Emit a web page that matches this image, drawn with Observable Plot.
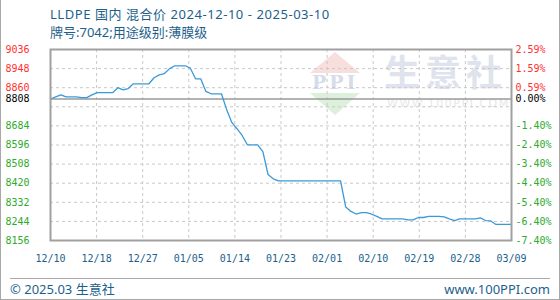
<!DOCTYPE html>
<html><head><meta charset="utf-8">
<script src="https://cdn.jsdelivr.net/npm/d3@7"></script>
<script src="https://cdn.jsdelivr.net/npm/@observablehq/plot@0.6"></script>
<style>
body{margin:0;background:#fff;}
#wrap{position:relative;width:560px;height:300px;overflow:hidden;font-family:"Noto Sans","Noto Sans CJK SC",sans-serif;}
#border{position:absolute;left:0;top:0;width:560px;height:300px;box-sizing:border-box;border:1px solid #a8a8a8;border-top:none;}
.t{position:absolute;white-space:nowrap;color:#1d5f8c;font-size:13px;line-height:13px;}
#chart{position:absolute;left:0;top:0;}
#footline{position:absolute;left:10px;top:278px;width:540px;height:1px;background:#a8a8a8;}
.wm{position:absolute;white-space:nowrap;}
</style></head><body>
<div id="wrap">
  <div class="wm" style="left:310px;top:52px;width:0;height:0;border-left:25px solid transparent;border-right:25px solid transparent;border-bottom:21px solid #f9dede;"></div>
  <div class="wm" style="left:310px;top:93px;width:0;height:0;border-left:25px solid transparent;border-right:25px solid transparent;border-top:22px solid #dcf0dc;"></div>
  <div class="wm" style="left:312px;top:72px;font-family:'DejaVu Serif';font-weight:bold;font-size:19px;line-height:20px;color:#d6dcea;letter-spacing:3px;">PPI</div>
  <div class="wm" style="left:384px;top:50px;font-family:'Noto Sans CJK SC';font-weight:bold;font-size:36px;line-height:40px;color:#dfe3ed;letter-spacing:5px;">生意社</div>
  <div class="wm" style="left:387px;top:98px;font-family:'DejaVu Sans';font-size:11px;line-height:12px;color:#e8e8e8;letter-spacing:1.5px;">WWW.100PPI.COM</div>
  <div id="chart"></div>
  <div class="t" style="left:50px;top:8px;letter-spacing:0.55px;">LLDPE 国内 混合价 2024-12-10 - 2025-03-10</div>
  <div class="t" style="left:50px;top:26px;">牌号:7042;用途级别:薄膜级</div>
  <div id="footline"></div>
  <div class="t" style="left:10px;top:283px;">© 2025.03 生意社</div>
  <div class="t" style="right:10px;top:283px;">www.100PPI.com</div>
  <div id="border"></div>
</div>
<script>
const startDate = "2024-12-10";
const baseValue = 8808;
const prices = [
  8808, 8818, 8827, 8818, 8818, 8818, 8814, 8814, 8827, 8837,
  8837, 8837, 8837, 8860, 8850, 8856, 8878, 8878, 8878, 8878,
  8906, 8919, 8925, 8948, 8961, 8961, 8961, 8950, 8901, 8901,
  8843, 8832, 8832, 8832, 8760, 8700, 8671, 8640, 8597, 8597,
  8597, 8565, 8460, 8440, 8431, 8431, 8431, 8431, 8431, 8431,
  8431, 8431, 8431, 8431, 8431, 8431, 8431, 8310, 8290, 8278,
  8284, 8284, 8277, 8267, 8256, 8256, 8256, 8256, 8256, 8251,
  8251, 8262, 8262, 8267, 8267, 8267, 8265, 8256, 8248, 8256,
  8256, 8256, 8256, 8260, 8248, 8246, 8230, 8230, 8230, 8230
];
const xTickLabels = ["12/10","12/18","12/27","01/05","01/14","01/23","02/01","02/10","02/19","02/28","03/09"];
const yLabelValues = [9036, 8948, 8860, 8808, 8684, 8596, 8508, 8420, 8332, 8244, 8156];
const yPctLabels = ["2.59%","1.59%","0.59%","0.00%","-1.40%","-2.40%","-3.40%","-4.40%","-5.40%","-6.40%","-7.40%"];
const yGridValues = [9036, 8948, 8860, 8772, 8684, 8596, 8508, 8420, 8332, 8244, 8156];

const data = prices.map((v, i) => ({day: i, price: v}));
const lastDay = prices.length - 1;
const xTicks = xTickLabels.map((l, i) => ({pos: lastDay * i / (xTickLabels.length - 1), label: l}));
const labelColor = v => v > baseValue ? "#ff3030" : v < baseValue ? "#2eaa2e" : "#000000";
const yLabels = yLabelValues.map((v, i) => ({v, txt: String(v), pct: yPctLabels[i], c: labelColor(v)}));
const mono = "'DejaVu Sans Mono', monospace";

const chart = Plot.plot({
  width: 560, height: 300,
  marginTop: 49, marginBottom: 60, marginLeft: 50, marginRight: 49,
  x: {domain: [0, lastDay], axis: null},
  y: {domain: [d3.min(yGridValues), d3.max(yGridValues)], axis: null},
  color: {type: "identity"},
  style: {background: "transparent", overflow: "visible"},
  marks: [
    Plot.ruleY(yGridValues, {stroke: "#c8c8c8", strokeDasharray: "3,3"}),
    Plot.ruleX(xTicks, {x: "pos", stroke: "#c8c8c8", strokeDasharray: "3,3"}),
    Plot.ruleY([baseValue], {stroke: "#9a9a9a", strokeWidth: 1.5}),
    Plot.line(data, {x: "day", y: "price", stroke: "#3a9ad9", strokeWidth: 1.3}),
    Plot.frame({stroke: "#a0a0a0", strokeWidth: 2}),
    Plot.text(yLabels, {y: "v", text: "txt", fill: "c", frameAnchor: "left", dx: -45, textAnchor: "start", lineAnchor: "middle", fontFamily: mono, fontSize: 10}),
    Plot.text(yLabels, {y: "v", text: "pct", fill: "c", frameAnchor: "right", dx: 4, textAnchor: "start", lineAnchor: "middle", fontFamily: mono, fontSize: 10}),
    Plot.text(xTicks, {x: "pos", text: "label", fill: "#1d5f8c", frameAnchor: "bottom", dy: 18.5, lineAnchor: "middle", fontFamily: mono, fontSize: 10})
  ]
});
document.getElementById("chart").appendChild(chart);
</script>
</body></html>
